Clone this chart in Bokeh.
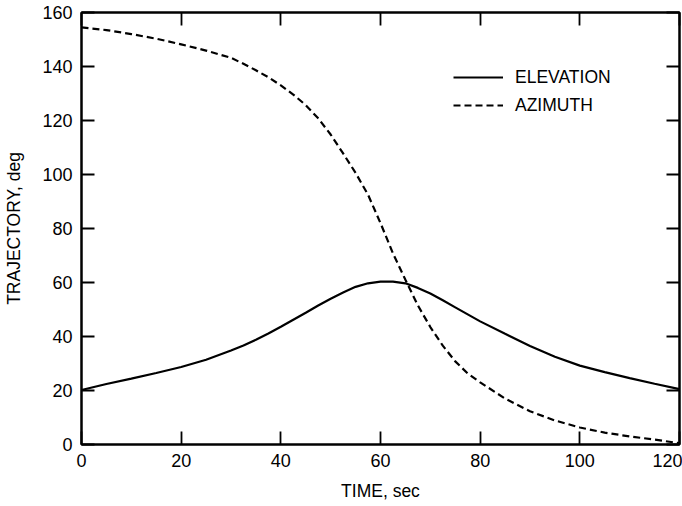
from bokeh.plotting import figure
from bokeh.models import LinearAxis, FixedTicker, Legend, LegendItem, Range1d
from bokeh.embed import file_html
from bokeh.resources import INLINE

time_s = [0, 5, 10, 15, 20, 25, 30, 32.5, 35, 37.5, 40, 42.5, 45, 47.5, 50, 52.5, 55, 57.5, 60, 62.5, 65,
          67.5, 70, 72.5, 75, 77.5, 80, 85, 90, 95, 100, 105, 110, 115, 120]
elevation = [20.2, 22.4, 24.4, 26.5, 28.7, 31.4, 34.8, 36.7, 38.8, 41.1, 43.6, 46.2, 48.8, 51.5, 54.0,
             56.3, 58.4, 59.7, 60.3, 60.3, 59.7, 58.0, 55.9, 53.4, 50.8, 48.2, 45.6, 41.0, 36.5, 32.5,
             29.2, 26.8, 24.6, 22.5, 20.5]
azimuth = [154.5, 153.5, 152.0, 150.3, 148.2, 145.9, 143.2, 141.0, 138.6, 136.0, 133.0, 129.6, 125.7,
           120.8, 114.8, 107.8, 100.6, 92.5, 82.0, 70.8, 61.0, 51.5, 43.5, 36.6, 30.8, 26.3, 23.0, 17.0,
           12.3, 8.9, 6.3, 4.4, 3.0, 1.8, 0.5]
x_ticks = [0, 20, 40, 60, 80, 100, 120]
y_ticks = [0, 20, 40, 60, 80, 100, 120, 140, 160]

FONT = "Liberation Sans"

p = figure(width=682, height=506, output_backend="svg", toolbar_location=None,
           x_range=Range1d(0, 120), y_range=Range1d(0, 160),
           min_border_left=81, min_border_right=3, min_border_top=12, min_border_bottom=62)
p.grid.visible = False
p.outline_line_color = "black"
p.outline_line_width = 2
p.background_fill_color = "white"
p.border_fill_color = "white"

r1 = p.line(time_s, elevation, line_color="black", line_width=2.2)
r2 = p.line(time_s, azimuth, line_color="black", line_width=2.2, line_dash="7 4")


def style_axis(ax, labels=True):
    ax.axis_line_color = "black"
    ax.axis_line_width = 2
    ax.major_tick_in = 13
    ax.major_tick_out = 0
    ax.minor_tick_in = 0
    ax.minor_tick_out = 0
    ax.major_tick_line_color = "black"
    ax.major_tick_line_width = 1.8
    if labels:
        ax.major_label_text_font = FONT
        ax.major_label_text_font_size = "18px"
        ax.major_label_text_color = "black"
        ax.axis_label_text_font = FONT
        ax.axis_label_text_font_size = "17.5px"
        ax.axis_label_text_font_style = "normal"
        ax.axis_label_text_color = "black"
    else:
        ax.major_label_text_font_size = "1px"
        ax.major_label_text_color = None
        ax.major_label_standoff = 0


xa = p.xaxis[0]
xa.ticker = FixedTicker(ticks=x_ticks)
style_axis(xa)
xa.axis_label = "TIME, sec"
xa.major_label_standoff = 9
xa.axis_label_standoff = 11

ya = p.yaxis[0]
ya.ticker = FixedTicker(ticks=y_ticks)
style_axis(ya)
ya.axis_label = "TRAJECTORY, deg"
ya.major_label_standoff = 9
ya.axis_label_standoff = 15

top = LinearAxis(ticker=FixedTicker(ticks=x_ticks))
style_axis(top, labels=False)
p.add_layout(top, "above")
right = LinearAxis(ticker=FixedTicker(ticks=y_ticks))
style_axis(right, labels=False)
p.add_layout(right, "right")

legend = Legend(items=[LegendItem(label="ELEVATION", renderers=[r1]),
                       LegendItem(label="AZIMUTH", renderers=[r2])],
                location=(372, 325), padding=0, spacing=0, margin=0,
                glyph_width=50, glyph_height=28, label_height=28, label_standoff=12,
                label_text_font=FONT, label_text_font_size="17.5px", label_text_color="black",
                background_fill_alpha=0, border_line_color=None)
p.add_layout(legend)

open("out.html", "w").write(file_html(p, INLINE))
